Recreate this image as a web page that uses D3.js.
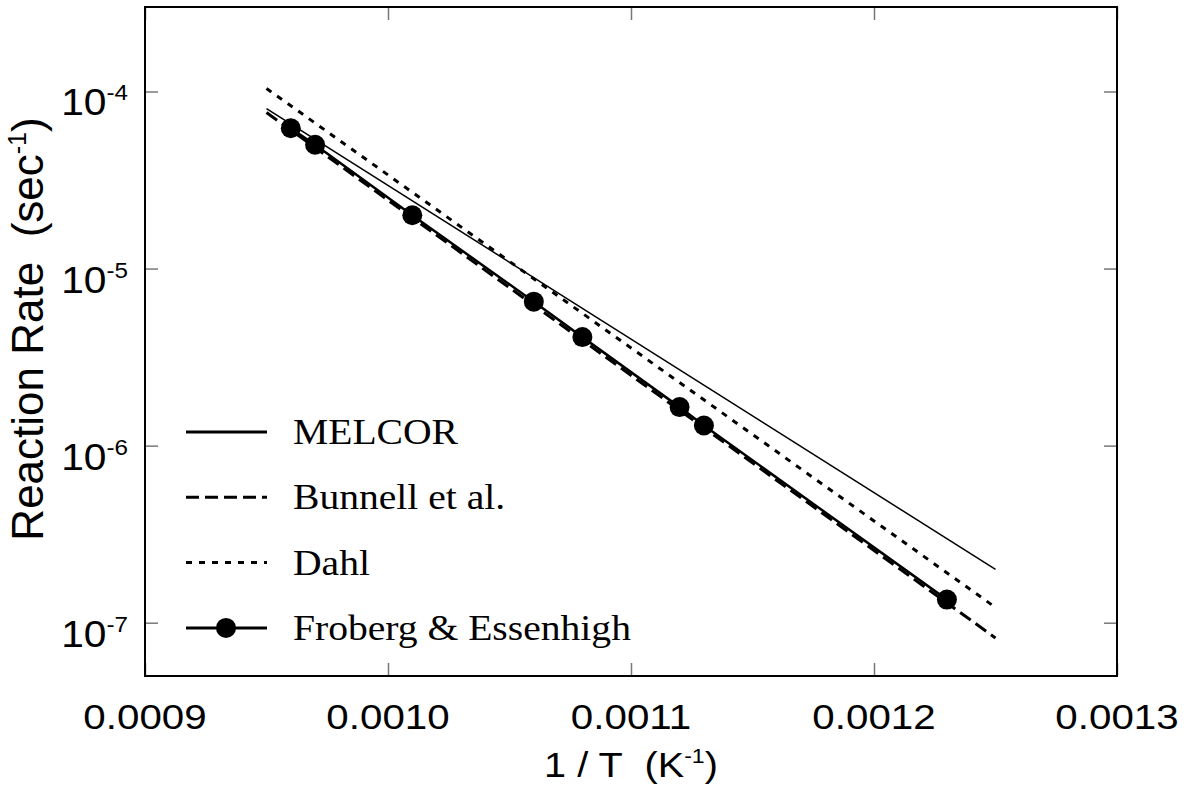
<!DOCTYPE html>
<html>
<head>
<meta charset="utf-8">
<script src="https://cdn.jsdelivr.net/npm/d3@7"></script>
<style>
  body { margin: 0; background: #fff; }
</style>
</head>
<body>
<div id="chart"></div>
<script>
var svgWidth = 1190;
var svgHeight = 792;

var margin = { top: 7, right: 73, bottom: 116, left: 145 };
var width = svgWidth - margin.left - margin.right;
var height = svgHeight - margin.top - margin.bottom;

// data (1/T in K^-1, rate in sec^-1)
var lineX = [0.00095, 0.00125];
var melcorY = [8.0e-5, 2.0e-7];
var bunnellY = [7.6e-5, 8.2e-8];
var dahlY = [1.04e-4, 1.22e-7];

var frobergX = [0.00096, 0.00097, 0.00101, 0.00106, 0.00108, 0.00112, 0.00113, 0.00123];
var frobergY = [6.2e-5, 5.0e-5, 2.0e-5, 6.5e-6, 4.1e-6, 1.65e-6, 1.3e-6, 1.35e-7];

var xTicks = [0.0009, 0.0010, 0.0011, 0.0012, 0.0013];
var yTicks = [1e-7, 1e-6, 1e-5, 1e-4];
var yTickExp = ["-7", "-6", "-5", "-4"];
var legendNames = ["MELCOR", "Bunnell et al.", "Dahl", "Froberg & Essenhigh"];

var sans = "Arial, 'Liberation Sans', sans-serif";
var serif = "'Times New Roman', 'Liberation Serif', serif";
var sx = 1.1; // text in the picture is a bit wide

var svg = d3.select("#chart").append("svg")
  .attr("width", svgWidth)
  .attr("height", svgHeight);

var chartGroup = svg.append("g")
  .attr("transform", `translate(${margin.left}, ${margin.top})`);

var xScale = d3.scaleLinear().domain([0.0009, 0.0013]).range([0, width]);
var yScale = d3.scaleLog().domain([5e-8, 3e-4]).range([height, 0]);

// ticks, all pointing inside
function tickAxis(axis, transform) {
  var g = chartGroup.append("g").attr("transform", transform).call(axis);
  g.select(".domain").remove();
  g.selectAll("text").remove();
  g.selectAll("line").attr("stroke", "#777").attr("stroke-width", 1.5);
  return g;
}
tickAxis(d3.axisBottom(xScale).tickValues(xTicks).tickSizeInner(-13).tickSizeOuter(0), `translate(0,${height})`);
tickAxis(d3.axisTop(xScale).tickValues(xTicks).tickSizeInner(-13).tickSizeOuter(0), "translate(0,0)");
tickAxis(d3.axisLeft(yScale).tickValues(yTicks).tickSizeInner(-13).tickSizeOuter(0), "translate(0,0)");
tickAxis(d3.axisRight(yScale).tickValues(yTicks).tickSizeInner(-13).tickSizeOuter(0), `translate(${width},0)`);

chartGroup.append("rect")
  .attr("width", width)
  .attr("height", height)
  .attr("fill", "none")
  .attr("stroke", "#000")
  .attr("stroke-width", 2);

// helper for wide text with optional superscript parts
function label(parent, x, y, anchor, parts, size, family, scaleX, rot) {
  var t = parent.append("text")
    .attr("transform", `translate(${x},${y}) scale(${scaleX},1)` + (rot ? ` rotate(${rot})` : ""))
    .attr("text-anchor", anchor)
    .attr("font-family", family)
    .attr("font-size", size)
    .attr("fill", "#000");
  parts.forEach(function(p) {
    var ts = t.append("tspan").text(p.t);
    if (p.sup) ts.attr("font-size", p.sup).attr("dy", p.dy);
    else if (p.dy) ts.attr("dy", p.dy);
  });
  return t;
}

// x tick labels
xTicks.forEach(function(v) {
  label(svg, margin.left + xScale(v), margin.top + height + 53, "middle",
    [{ t: d3.format(".4f")(v) }], 36, sans, 1.12);
});

// y tick labels
yTicks.forEach(function(v, i) {
  label(svg, 128, margin.top + yScale(v) + 24, "end",
    [{ t: "10" }, { t: yTickExp[i], sup: 22, dy: -15 }], 37, sans, 1.1);
});

// axis titles
label(svg, margin.left + width / 2, 777, "middle",
  [{ t: "1 / T\u00a0\u00a0(K" }, { t: "-1", sup: 21, dy: -14 }, { t: ")", dy: 14 }], 36, sans, sx);

label(svg, 43, 329, "middle",
  [{ t: "Reaction Rate\u00a0\u00a0(sec" }, { t: "-1", sup: 25, dy: -17 }, { t: ")", dy: 17 }], 44, sans, 1, -90);

// series lines
var lineGen = d3.line()
  .x(d => xScale(d[0]))
  .y(d => yScale(d[1]));

function pairs(xs, ys) { return xs.map((x, i) => [x, ys[i]]); }

var styles = [
  { width: 1.5, dash: null },
  { width: 3, dash: "13,6" },
  { width: 3, dash: "6,7" },
  { width: 2.5, dash: null }
];

chartGroup.append("path")
  .datum(pairs(lineX, melcorY))
  .attr("d", lineGen)
  .attr("fill", "none").attr("stroke", "#000")
  .attr("stroke-width", styles[0].width);

chartGroup.append("path")
  .datum(pairs(lineX, bunnellY))
  .attr("d", lineGen)
  .attr("fill", "none").attr("stroke", "#000")
  .attr("stroke-width", styles[1].width)
  .attr("stroke-dasharray", styles[1].dash);

chartGroup.append("path")
  .datum(pairs(lineX, dahlY))
  .attr("d", lineGen)
  .attr("fill", "none").attr("stroke", "#000")
  .attr("stroke-width", styles[2].width)
  .attr("stroke-dasharray", styles[2].dash);

var frob = pairs(frobergX, frobergY);
chartGroup.append("path")
  .datum(frob)
  .attr("d", lineGen)
  .attr("fill", "none").attr("stroke", "#000")
  .attr("stroke-width", styles[3].width);

chartGroup.selectAll("circle.frob")
  .data(frob)
  .enter()
  .append("circle")
  .attr("class", "frob")
  .attr("cx", d => xScale(d[0]))
  .attr("cy", d => yScale(d[1]))
  .attr("r", 10)
  .attr("fill", "#000");

// legend
var legend = svg.append("g");
legendNames.forEach(function(name, i) {
  var ly = 432 + i * 65.3;
  legend.append("line")
    .attr("x1", 186).attr("x2", 267)
    .attr("y1", ly).attr("y2", ly)
    .attr("stroke", "#000")
    .attr("stroke-width", 3)
    .attr("stroke-dasharray", styles[i].dash);
  if (i === 3) {
    legend.append("circle").attr("cx", 226).attr("cy", ly).attr("r", 10).attr("fill", "#000");
  }
  label(legend, 293, ly + 12, "start", [{ t: name }], 36, serif, sx);
});
</script>
</body>
</html>
